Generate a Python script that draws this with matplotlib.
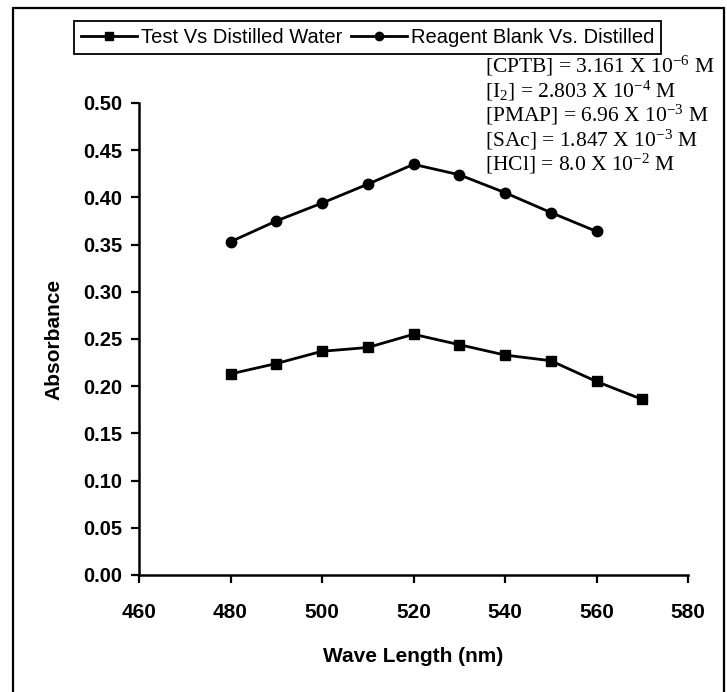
import numpy as np
import matplotlib
matplotlib.use("Agg")
import matplotlib.pyplot as plt
from matplotlib.patches import Rectangle

plt.rcParams['mathtext.fontset'] = 'custom'
plt.rcParams['mathtext.rm'] = 'Liberation Serif'
plt.rcParams['mathtext.it'] = 'Liberation Serif:italic'

# data
wl_test = [480, 490, 500, 510, 520, 530, 540, 550, 560, 570]
abs_test = [0.213, 0.224, 0.237, 0.241, 0.255, 0.244, 0.233, 0.227, 0.205, 0.186]
wl_blank = [480, 490, 500, 510, 520, 530, 540, 550, 560]
abs_blank = [0.353, 0.375, 0.394, 0.414, 0.435, 0.424, 0.405, 0.384, 0.364]

xticks = [460, 480, 500, 520, 540, 560, 580]
yticks = [0.00, 0.05, 0.10, 0.15, 0.20, 0.25, 0.30, 0.35, 0.40, 0.45, 0.50]

conc_lines = [r'[CPTB] = 3.161 X $\mathregular{10^{-6}}$ M',
              r'[I$\mathregular{_2}$] = 2.803 X $\mathregular{10^{-4}}$ M',
              r'[PMAP] = 6.96 X $\mathregular{10^{-3}}$ M',
              r'[SAc] = 1.847 X $\mathregular{10^{-3}}$ M',
              r'[HCl] = 8.0 X $\mathregular{10^{-2}}$ M']

W, H = 727, 692
fig = plt.figure(figsize=(W/100., H/100.), dpi=100)
ax = fig.add_axes([139./W, 1-575./H, (688-139.)/W, (575-103.)/H])

l1, = ax.plot(wl_test, abs_test, 'k-', marker='s', ms=7.5, lw=2.0)
l2, = ax.plot(wl_blank, abs_blank, 'k-', marker='o', ms=7.5, lw=2.0)

ax.set_xlim(460, 580)
ax.set_ylim(0, 0.5)
ax.set_xticks(xticks)
ax.set_yticks(yticks)
ax.set_xticklabels([str(t) for t in xticks], fontsize=15, fontweight='bold', family='Liberation Sans')
ax.set_yticklabels(['%.2f' % t for t in yticks], fontsize=14.5, fontweight='bold', family='Liberation Sans')
ax.tick_params(axis='both', direction='out', length=6, width=1.6, colors='k')
ax.tick_params(axis='x', pad=14)
ax.tick_params(axis='y', pad=6)
for s in ['top', 'right']:
    ax.spines[s].set_visible(False)
for s in ['left', 'bottom']:
    ax.spines[s].set_linewidth(1.8)

ax.set_xlabel('Wave Length (nm)', fontsize=15, fontweight='bold', family='Liberation Sans', labelpad=18)
ax.set_ylabel('Absorbance', fontsize=15, fontweight='bold', family='Liberation Sans', labelpad=14)

leg = fig.legend([l1, l2], ['Test Vs Distilled Water', 'Reagent Blank Vs. Distilled'],
                 loc='center', bbox_to_anchor=(367.5/W, 1-37.5/H), ncol=2,
                 prop={'family': 'Liberation Sans', 'size': 14.5},
                 fancybox=False, edgecolor='k', framealpha=1,
                 handlelength=2.8, handletextpad=0.2, columnspacing=0.4,
                 borderpad=0.35, markerscale=0.8)
leg.get_frame().set_linewidth(1.3)

for i, t in enumerate(conc_lines):
    fig.text(485./W, 1-(66+24.5*i)/H, t, fontsize=15.5, family='Liberation Serif',
             ha='left', va='center')

# outer frame of the scanned chart
fig.patches.append(Rectangle((13./W, -0.02), (724-13.)/W, 1-8./H+0.02,
                             transform=fig.transFigure, fill=False,
                             edgecolor='k', lw=1.6))

plt.savefig('out.png', dpi=100)
